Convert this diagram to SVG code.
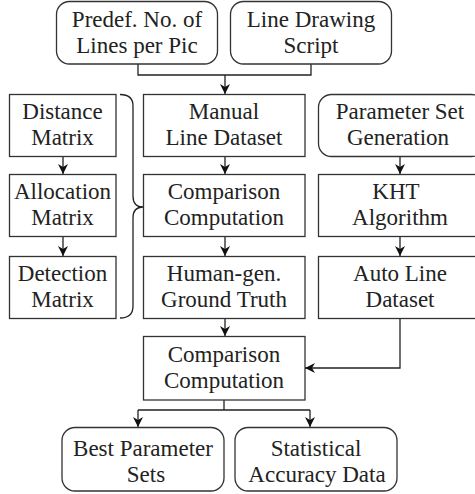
<svg xmlns="http://www.w3.org/2000/svg" width="475" height="494" viewBox="0 0 475 494">
<defs>
<marker id="a" viewBox="0 0 10 10" refX="10" refY="5" markerWidth="10" markerHeight="10" markerUnits="userSpaceOnUse" orient="auto">
<path d="M0,0 L10,5 L0,10 L3,5 z" fill="#111"/>
</marker>
</defs>
<rect width="475" height="494" fill="#fff"/>
<g id="connectors" fill="none" stroke="#222" stroke-width="1.3">
<path d="M138,64 V75 H311 V64"/>
<path d="M225,75 V94" marker-end="url(#a)"/>
<path d="M63,156 V174" marker-end="url(#a)"/>
<path d="M63,237 V256" marker-end="url(#a)"/>
<path d="M225,157 V174" marker-end="url(#a)"/>
<path d="M225,237 V256" marker-end="url(#a)"/>
<path d="M225,318 V336" marker-end="url(#a)"/>
<path d="M400,157 V174" marker-end="url(#a)"/>
<path d="M400,237 V256" marker-end="url(#a)"/>
<path d="M400,318 V368 H305" marker-end="url(#a)"/>
<path d="M224,400 V410 M138,410 H310"/>
<path d="M138,410 V427" marker-end="url(#a)"/>
<path d="M310,410 V427" marker-end="url(#a)"/>
<path d="M120,94.5 Q133,94.5 133,106 L133,196 Q133,207 143,207 Q133,207 133,218 L133,306 Q133,318 120,318"/>
</g>
<g id="boxes" fill="#fff" stroke="#333" stroke-width="1.3">
<rect id="n1" x="56.5" y="1.5" width="161" height="62.5" rx="13"/>
<rect id="n2" x="230.5" y="1.5" width="161" height="62.5" rx="13"/>
<rect id="n3" x="9.5" y="94.5" width="106.5" height="62"/>
<rect id="n4" x="143.5" y="94.5" width="161.5" height="62"/>
<rect id="n5" x="318.5" y="94.5" width="166" height="62" rx="13"/>
<rect id="n6" x="9.5" y="174.5" width="106.5" height="62"/>
<rect id="n7" x="143.5" y="174.5" width="161.5" height="62"/>
<rect id="n8" x="318.5" y="174.5" width="166" height="62"/>
<rect id="n9" x="9.5" y="256.5" width="106.5" height="62"/>
<rect id="n10" x="143.5" y="256.5" width="161.5" height="62"/>
<rect id="n11" x="318.5" y="256.5" width="166" height="62"/>
<rect id="n12" x="143.5" y="336.5" width="161.5" height="63.5"/>
<rect id="n13" x="62" y="427.5" width="162" height="63.5" rx="13"/>
<rect id="n14" x="235" y="427.5" width="162" height="63.5" rx="13"/>
</g>
<g id="labels" fill="#222" text-anchor="middle" font-family="Liberation Serif" font-size="23">
<text x="137" y="27" style="font-family:'Liberation Serif',serif">Predef. No. of</text>
<text x="137" y="53" style="font-family:'Liberation Serif',serif">Lines per Pic</text>
<text x="311" y="27" style="font-family:'Liberation Serif',serif">Line Drawing</text>
<text x="311" y="53" style="font-family:'Liberation Serif',serif">Script</text>
<text x="62.5" y="119" style="font-family:'Liberation Serif',serif">Distance</text>
<text x="62.5" y="145" style="font-family:'Liberation Serif',serif">Matrix</text>
<text x="224" y="119" style="font-family:'Liberation Serif',serif">Manual</text>
<text x="224" y="145" style="font-family:'Liberation Serif',serif">Line Dataset</text>
<text x="400" y="119" style="font-family:'Liberation Serif',serif">Parameter Set</text>
<text x="398" y="145" style="font-family:'Liberation Serif',serif">Generation</text>
<text x="62.5" y="199" style="font-family:'Liberation Serif',serif">Allocation</text>
<text x="62.5" y="225" style="font-family:'Liberation Serif',serif">Matrix</text>
<text x="224" y="199" style="font-family:'Liberation Serif',serif">Comparison</text>
<text x="224" y="225" style="font-family:'Liberation Serif',serif">Computation</text>
<text x="396" y="199" style="font-family:'Liberation Serif',serif">KHT</text>
<text x="400" y="225" style="font-family:'Liberation Serif',serif">Algorithm</text>
<text x="62.5" y="281" style="font-family:'Liberation Serif',serif">Detection</text>
<text x="62.5" y="307" style="font-family:'Liberation Serif',serif">Matrix</text>
<text x="224" y="281" style="font-family:'Liberation Serif',serif">Human-gen.</text>
<text x="224" y="307" style="font-family:'Liberation Serif',serif">Ground Truth</text>
<text x="400" y="281" style="font-family:'Liberation Serif',serif">Auto Line</text>
<text x="400" y="307" style="font-family:'Liberation Serif',serif">Dataset</text>
<text x="224" y="362" style="font-family:'Liberation Serif',serif">Comparison</text>
<text x="224" y="388" style="font-family:'Liberation Serif',serif">Computation</text>
<text x="143" y="456" style="font-family:'Liberation Serif',serif">Best Parameter</text>
<text x="146" y="482" style="font-family:'Liberation Serif',serif">Sets</text>
<text x="316" y="456" style="font-family:'Liberation Serif',serif">Statistical</text>
<text x="317" y="482" style="font-family:'Liberation Serif',serif">Accuracy Data</text>
</g>
</svg>
